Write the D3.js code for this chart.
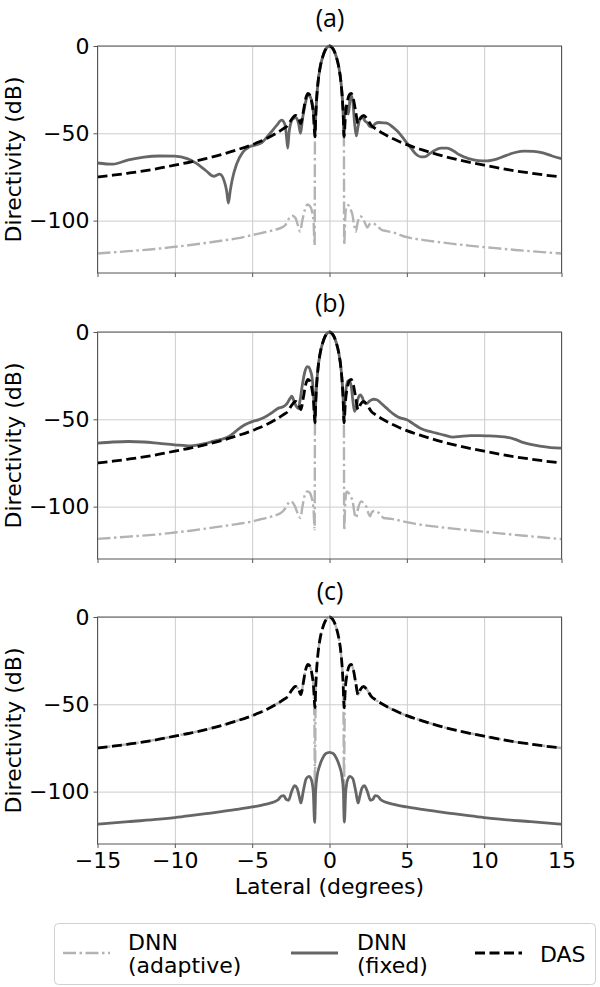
<!DOCTYPE html>
<meta charset="utf-8">
<style>
body { margin: 0; background: #fff; }
svg text { font-family: "DejaVu Sans", sans-serif; fill: #000; }
.grid line { stroke: #cccccc; stroke-width: 1; }
.grid path { display: none; }
.axis path, .axis line { stroke: #555; stroke-width: 1; }
.axis text { font-size: 22px; }
.title { font-family: "Open Sans", sans-serif !important; font-size: 25px; }
</style>
<svg width="600" height="987"></svg>
<script src="https://d3js.org/d3.v7.min.js"></script>
<script>

// x ticks / y ticks
var xTicks = [-15, -10, -5, 0, 5, 10, 15];
var yTicks = [0, -50, -100];
var panelTitles = ["(a)", "(b)", "(c)"];
var seriesNames = ["DNN\n(adaptive)", "DNN\n(fixed)", "DAS"];

// DAS beam pattern (same in all panels)
var das = [[-15,-75],[-14,-74],[-13,-72.8],[-12,-71.5],[-11,-70],[-10,-68.2],[-9,-66.5],[-8,-64.5],[-7,-62.2],[-6,-59.5],
  [-5,-56.5],[-4.5,-54.7],[-4,-52.7],[-3.5,-50.3],[-3,-47.5],[-2.7,-45.5],[-2.45,-42],[-2.2,-39.8],[-2.0,-41.5],[-1.85,-44.5],
  [-1.7,-38],[-1.55,-30.5],[-1.4,-27.2],[-1.28,-28],[-1.15,-32],[-1.03,-40],[-0.94,-52],[-0.89,-40],[-0.83,-30],[-0.75,-21.5],
  [-0.6,-12],[-0.45,-6.5],[-0.3,-2.8],[-0.15,-0.7],[0,0],[0.15,-0.7],[0.3,-2.8],[0.45,-6.5],[0.6,-12],[0.75,-21.5],
  [0.83,-30],[0.89,-40],[0.94,-52],[1.03,-40],[1.15,-32],[1.28,-28],[1.4,-27.2],[1.55,-30.5],[1.7,-38],[1.85,-44.5],
  [2.0,-41.5],[2.2,-39.8],[2.45,-42],[2.7,-45.5],[3,-47.5],[3.5,-50.3],[4,-52.7],[4.5,-54.7],[5,-56.5],[6,-59.5],
  [7,-62.2],[8,-64.5],[9,-66.5],[10,-68.2],[11,-70],[12,-71.5],[13,-72.8],[14,-74],[15,-75]];

// DNN adaptive
var adaptiveA = [[-15,-118.8],[-13,-117.5],[-11,-116],[-10,-115],[-9,-114],[-8,-112.8],[-7,-111.5],[-6,-110.2],[-5,-108.3],
  [-4.5,-107.3],[-4,-106.3],[-3.5,-105.2],[-3.1,-104],[-2.85,-102.5],[-2.6,-98.5],[-2.4,-97.2],[-2.2,-98.5],[-2.05,-102.5],
  [-1.9,-106.3],[-1.78,-101],[-1.6,-94],[-1.42,-90.8],[-1.28,-91.5],[-1.15,-94],[-1.03,-101],[-0.96,-114],[-0.94,-52],
  [-0.89,-40],[-0.83,-30],[-0.75,-21.5],[-0.6,-12],[-0.45,-6.5],[-0.3,-2.8],[-0.15,-0.7],[0,0],[0.15,-0.7],[0.3,-2.8],
  [0.45,-6.5],[0.6,-12],[0.75,-21.5],[0.83,-30],[0.89,-40],[0.93,-52],[0.95,-114],[1.02,-98],[1.1,-91.5],[1.22,-91.2],
  [1.35,-93.5],[1.48,-96.5],[1.6,-103],[1.7,-106.3],[1.82,-101],[1.98,-97.5],[2.15,-98.5],[2.3,-101.5],[2.45,-104],
  [2.6,-102],[2.8,-101.5],[3.05,-102.8],[3.35,-105.2],[3.7,-106],[4.2,-107],[5,-109.5],[6,-111],[7,-112.2],[8,-113.3],
  [9,-114.3],[10,-115.2],[11,-116],[12,-116.8],[13,-117.5],[14,-118.2],[15,-118.8]];

var adaptiveB = [[-15,-118.5],[-13,-117.2],[-11,-115.8],[-10,-114.8],[-9,-113.8],[-8,-112.6],[-7,-111.3],[-6,-110],[-5,-108.5],
  [-4.5,-107.4],[-4,-106.3],[-3.5,-105],[-3.2,-104],[-2.9,-101.5],[-2.7,-98.5],[-2.55,-97],[-2.4,-97.5],[-2.25,-99.5],
  [-2.05,-104],[-1.88,-106.5],[-1.75,-100],[-1.6,-93.5],[-1.42,-91.3],[-1.28,-92],[-1.15,-95],[-1.03,-102],[-0.96,-113],
  [-0.94,-52],[-0.89,-40],[-0.83,-30],[-0.75,-21.5],[-0.6,-12],[-0.45,-6.5],[-0.3,-2.8],[-0.15,-0.7],[0,0],[0.15,-0.7],
  [0.3,-2.8],[0.45,-6.5],[0.6,-12],[0.75,-21.5],[0.83,-30],[0.89,-40],[0.93,-52],[0.95,-113.5],[1.02,-98],[1.1,-91.5],
  [1.22,-92],[1.35,-94],[1.5,-97],[1.62,-104],[1.72,-106.5],[1.85,-101],[2.05,-97],[2.25,-98.5],[2.4,-100.5],[2.52,-104],
  [2.63,-105.5],[2.75,-103],[2.9,-102.5],[3.1,-103],[3.3,-104.5],[3.5,-106.5],[4,-107],[5,-108.9],[6,-110.5],[7,-111.6],
  [8,-112.6],[9,-113.5],[10,-114.4],[11,-115.3],[12,-116.2],[13,-117],[14,-117.8],[15,-118.6]];

var adaptiveC = [[-15,-75],[-12,-71.5],[-10,-68.2],[-8,-64.5],[-6,-59.5],[-5,-56.5],[-4,-52.7],[-3,-47.5],[-2.7,-45.5],
  [-2.45,-42],[-2.2,-39.8],[-2.0,-41.5],[-1.85,-44.5],[-1.7,-38],[-1.55,-30.5],[-1.4,-27.2],[-1.28,-28],[-1.15,-32],
  [-1.03,-40],[-0.96,-75],[-0.94,-118],[-0.92,-75],[-0.89,-40],[-0.83,-30],[-0.75,-21.5],[-0.6,-12],[-0.45,-6.5],
  [-0.3,-2.8],[-0.15,-0.7],[0,0],[0.15,-0.7],[0.3,-2.8],[0.45,-6.5],[0.6,-12],[0.75,-21.5],[0.83,-30],[0.89,-40],
  [0.92,-75],[0.94,-118],[0.96,-75],[1.03,-40],[1.15,-32],[1.28,-28],[1.4,-27.2],[1.55,-30.5],[1.7,-38],[1.85,-44.5],
  [2.0,-41.5],[2.2,-39.8],[2.45,-42],[2.7,-45.5],[3,-47.5],[4,-52.7],[5,-56.5],[6,-59.5],[8,-64.5],[10,-68.2],
  [12,-71.5],[15,-75]];

// DNN fixed
var fixedA = [[-15,-67],[-14,-67.7],[-13,-65.2],[-12,-63.6],[-11,-63],[-10,-63.1],[-9.2,-64.5],[-8.6,-67.2],[-8,-71.3],
  [-7.5,-74.6],[-7.1,-73.4],[-6.8,-77.5],[-6.65,-83],[-6.54,-90],[-6.42,-83],[-6.3,-77],[-6,-67.5],[-5.6,-60.8],
  [-5.2,-57.8],[-4.8,-56.8],[-4.4,-55.5],[-3.85,-50.1],[-3.4,-45.3],[-3.1,-42.5],[-2.9,-44.5],[-2.8,-50],[-2.7,-58.5],
  [-2.62,-50],[-2.55,-46],[-2.35,-41.5],[-2.15,-41],[-2.0,-44.5],[-1.87,-50],[-1.75,-42],[-1.6,-34.5],[-1.45,-29],
  [-1.35,-28],[-1.22,-29.5],[-1.1,-34],[-1.0,-42],[-0.94,-52],[-0.89,-40],[-0.83,-30],[-0.75,-21.5],[-0.6,-12],
  [-0.45,-6.5],[-0.3,-2.8],[-0.15,-0.7],[0,0],[0.15,-0.7],[0.3,-2.8],[0.45,-6.5],[0.6,-12],[0.75,-21.5],[0.83,-30],
  [0.89,-40],[0.93,-52],[0.98,-40],[1.05,-34.5],[1.15,-37.5],[1.22,-39],[1.32,-31],[1.42,-28.5],[1.52,-33],[1.62,-44],
  [1.73,-51.5],[1.85,-46],[2.0,-41],[2.12,-40.5],[2.3,-43],[2.45,-44],[2.6,-46],[2.75,-46.5],[2.95,-44.5],[3.2,-43.8],
  [3.5,-44],[3.8,-44.5],[4.1,-46.5],[4.4,-48.8],[4.7,-52],[5.0,-55.5],[5.3,-58.8],[5.6,-62],[5.9,-63.5],[6.2,-63.3],
  [6.5,-61.5],[6.8,-59.8],[7.2,-58.5],[7.6,-58.5],[8.0,-60],[8.4,-62.3],[9.0,-64.5],[9.6,-65.6],[10.2,-65.8],
  [10.8,-64.8],[11.4,-62.8],[12,-61],[12.6,-60.2],[13.2,-60.3],[13.8,-61.2],[14.4,-63],[15,-64.5]];

var fixedB = [[-15,-63.6],[-14,-63],[-13,-62.7],[-12,-63],[-11,-63.8],[-10,-64.6],[-9,-65.2],[-8,-63.8],[-7.5,-62.5],
  [-7,-61.5],[-6.5,-59.8],[-6.2,-57.9],[-5.8,-55],[-5.5,-53.3],[-5,-51.3],[-4.6,-50.3],[-4.3,-49.3],[-3.76,-46.4],
  [-3.3,-43.6],[-3.0,-42.8],[-2.75,-41],[-2.55,-38],[-2.44,-36.8],[-2.3,-39.5],[-2.15,-42.5],[-2.02,-43.8],[-1.9,-39],
  [-1.75,-30],[-1.6,-23],[-1.45,-19.8],[-1.35,-20],[-1.22,-22.5],[-1.12,-26.5],[-1.02,-38],[-0.94,-52],[-0.89,-40],
  [-0.83,-30],[-0.75,-21.5],[-0.6,-12],[-0.45,-6.5],[-0.3,-2.8],[-0.15,-0.7],[0,0],[0.15,-0.7],[0.3,-2.8],[0.45,-6.5],
  [0.6,-12],[0.75,-21.5],[0.83,-30],[0.89,-40],[0.93,-52],[0.99,-40],[1.08,-32],[1.2,-28],[1.3,-27.8],[1.42,-32],
  [1.52,-40],[1.62,-45.5],[1.72,-43],[1.85,-38],[2.0,-36],[2.12,-37.5],[2.25,-40.5],[2.4,-41],[2.6,-39.5],[2.85,-38.5],
  [3.05,-38.8],[3.3,-40.5],[3.55,-42.5],[3.8,-44.5],[4.1,-46.8],[4.4,-48.6],[4.7,-49.5],[5.0,-50.3],[5.4,-52.5],
  [5.9,-55.2],[6.4,-56.8],[6.9,-57.9],[7.4,-59],[8.0,-60.2],[8.5,-59.8],[9.1,-59.4],[9.7,-59.3],[10.3,-59.5],
  [10.9,-59.8],[11.5,-60.3],[12,-61.5],[12.5,-63.2],[13,-64.4],[13.6,-65.4],[14.3,-66.2],[15,-66.5]];

var fixedC = [[-15,-118.7],[-13,-117.2],[-11,-115.8],[-10,-114.9],[-9,-113.8],[-8,-112.6],[-7,-111.5],[-6,-110.2],
  [-5,-108.8],[-4.5,-108],[-4,-107],[-3.6,-106],[-3.3,-104.5],[-3.1,-102.5],[-2.95,-102.3],[-2.8,-104.5],[-2.65,-105],
  [-2.45,-100],[-2.25,-96.6],[-2.1,-98],[-1.95,-103],[-1.85,-106.5],[-1.7,-100],[-1.5,-92.5],[-1.32,-91.3],[-1.18,-93],
  [-1.05,-100],[-0.96,-117.5],[-0.9,-100],[-0.8,-91],[-0.65,-85.5],[-0.45,-81],[-0.25,-78.3],[0,-77.5],[0.25,-78.3],
  [0.45,-81],[0.65,-85.5],[0.8,-91],[0.9,-100],[0.96,-117.5],[1.05,-100],[1.18,-93],[1.32,-91.3],[1.5,-92.5],[1.7,-100],
  [1.85,-106.5],[1.95,-103],[2.1,-98],[2.25,-96.6],[2.45,-100],[2.65,-105],[2.8,-104.5],[2.95,-102.3],[3.1,-102.5],
  [3.3,-104.5],[3.6,-106],[4,-107],[4.5,-108],[5,-108.8],[6,-110.2],[7,-111.5],[8,-112.6],[9,-113.8],[10,-114.9],
  [11,-115.8],[13,-117.2],[15,-118.7]];

var panels = [
  { title: panelTitles[0], top: 46,  adaptive: adaptiveA, fixed: fixedA, das: das, ty: 27 },
  { title: panelTitles[1], top: 332, adaptive: adaptiveB, fixed: fixedB, das: das, ty: 312 },
  { title: panelTitles[2], top: 617, adaptive: adaptiveC, fixed: fixedC, das: das, ty: 600 }
];

var svg = d3.select("svg"),
    left = 97.5, right = 561.5, ph = 227;

var x = d3.scaleLinear().domain([-15, 15]).range([left, right]);

var styles = {
  adaptive: { stroke: "#b3b3b3", width: 2.4, dash: "13,3.5,2.5,3.5" },
  fixed:    { stroke: "#666666", width: 2.8, dash: null },
  das:      { stroke: "#000000", width: 2.8, dash: "10,4.5" }
};

panels.forEach(function(p, i) {
  var y = d3.scaleLinear().domain([-130, 0]).range([p.top + ph, p.top]);
  var g = svg.append("g");

  // grid
  g.append("g").attr("class", "grid")
      .attr("transform", "translate(0," + (p.top + ph) + ")")
      .call(d3.axisBottom(x).tickValues(xTicks).tickSize(-ph).tickFormat(""));
  g.append("g").attr("class", "grid")
      .attr("transform", "translate(" + left + ",0)")
      .call(d3.axisLeft(y).tickValues(yTicks).tickSize(-(right - left)).tickFormat(""));

  var line = d3.line()
      .x(function(d) { return x(d[0]); })
      .y(function(d) { return y(d[1]); })
      .curve(d3.curveMonotoneX);

  ["adaptive", "fixed", "das"].forEach(function(k) {
    var s = styles[k];
    g.append("path")
        .datum(p[k])
        .attr("fill", "none")
        .attr("stroke", s.stroke)
        .attr("stroke-width", s.width)
        .attr("stroke-dasharray", s.dash)
        .attr("stroke-linejoin", "round")
        .attr("d", line);
  });

  // frame
  g.append("rect")
      .attr("x", left).attr("y", p.top)
      .attr("width", right - left).attr("height", ph)
      .attr("fill", "none").attr("stroke", "#555").attr("stroke-width", 1);

  var xa = d3.axisBottom(x).tickValues(xTicks).tickSize(4).tickPadding(4);
  if (i < 2) xa.tickFormat("");
  g.append("g").attr("class", "axis")
      .attr("transform", "translate(0," + (p.top + ph) + ")")
      .call(xa)
      .call(function(s) { s.select(".domain").remove(); });

  g.append("g").attr("class", "axis")
      .attr("transform", "translate(" + left + ",0)")
      .call(d3.axisLeft(y).tickValues(yTicks).tickSize(4).tickPadding(4).tickFormat(d3.format("d")))
      .call(function(s) { s.select(".domain").remove(); });

  // y label
  svg.append("text")
      .attr("transform", "translate(21," + (p.top + ph / 2) + ") rotate(-90)")
      .attr("text-anchor", "middle")
      .style("font-size", "22px")
      .text("Directivity (dB)");

  // title
  svg.append("text")
      .attr("class", "title")
      .attr("x", 330).attr("y", p.ty)
      .attr("text-anchor", "middle")
      .text(p.title);
});

svg.append("text")
    .attr("x", (left + right) / 2).attr("y", 894)
    .attr("text-anchor", "middle")
    .style("font-size", "22px")
    .text("Lateral (degrees)");

// legend
var lg = svg.append("g");
lg.append("rect")
    .attr("x", 54.5).attr("y", 923.5).attr("width", 541).attr("height", 61)
    .attr("rx", 4).attr("fill", "#fff").attr("stroke", "#d0d0d0");

var legendItems = [
  { key: "adaptive", x0: 63, tx: 128 },
  { key: "fixed", x0: 291, tx: 357 },
  { key: "das", x0: 475, tx: 540 }
];
legendItems.forEach(function(it, i) {
  var s = styles[it.key];
  lg.append("line")
      .attr("x1", it.x0).attr("x2", it.x0 + 47)
      .attr("y1", 953).attr("y2", 953)
      .attr("stroke", s.stroke).attr("stroke-width", s.width)
      .attr("stroke-dasharray", s.dash);
  var lines = seriesNames[i].split("\n");
  var t = lg.append("text").attr("x", it.tx).style("font-size", "22px");
  if (lines.length === 1) {
    t.attr("y", 962).text(lines[0]);
  } else {
    t.selectAll("tspan").data(lines).enter().append("tspan")
        .attr("x", it.tx)
        .attr("y", function(d, j) { return 950 + j * 23; })
        .text(function(d) { return d; });
  }
});

</script>
